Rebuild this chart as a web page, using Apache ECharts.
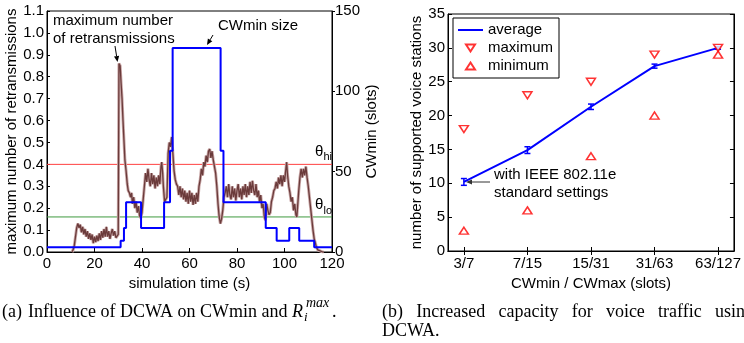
<!DOCTYPE html>
<html><head><meta charset="utf-8">
<script src="https://cdn.jsdelivr.net/npm/echarts@6/dist/echarts.min.js"></script>
<style>html,body{margin:0;padding:0;background:#fff;}#c{width:744px;height:343px;}</style>
</head><body><div id="c"></div>
<script>
const FONT = 'Liberation Sans, Arial, Helvetica, sans-serif';
const SERIF = 'Liberation Serif, Times New Roman, serif';

// ---- (a) data ----
const retxTime = [10.5,11,11.5,12,12.5,13,13.5,14,14.5,15,15.5,16,16.5,17,17.5,18,18.5,19,19.5,20,20.5,21,21.5,22,22.5,23,23.5,24,24.5,25,25.5,26,26.5,27,27.5,28,28.5,29,29.5,30,
30.3,30.8,31.2,31.6,32,32.4,32.8,33.3,33.8,34.2,34.7,35.2,35.6,36,36.5,37,37.5,38,38.5,39,39.5,40,40.5,41,41.5,42,42.5,43,43.5,44,44.5,45,45.5,46,46.5,47,47.5,48,48.3,48.7,49,49.5,50,50.5,51,51.5,52,52.5,53,53.5,54,54.5,55,55.5,56,56.5,57,57.5,58,58.5,59,59.5,60,60.5,61,61.5,62,62.5,63,63.5,64,64.5,65,65.5,66,66.5,67,67.5,68,68.5,69,69.5,70,70.5,71,71.5,72,72.5,73,73.5,74,74.5,75,75.5,76,76.5,77,77.5,78,78.5,79,79.5,80,80.5,81,81.5,82,82.5,83,83.5,84,84.5,85,85.5,86,86.5,87,87.5,88,88.5,89,89.5,90,90.5,91,91.5,92,92.5,93,93.5,94,94.5,95,95.5,96,96.5,97,97.5,98,98.5,99,99.5,100,100.5,100.9,101.3,101.8,102.3,102.8,103.3,103.8,104.3,104.8,105.2,105.6,106,106.5,107,107.5,108,108.5,109,109.5,110,110.5,111,111.5,112,112.5,113,113.5,114,115,116,116.5];
const retxValue = [0,0.01,0.03,0.07,0.11,0.13,0.11,0.125,0.09,0.115,0.08,0.105,0.07,0.095,0.06,0.085,0.055,0.08,0.04,0.07,0.045,0.075,0.05,0.085,0.055,0.095,0.065,0.105,0.07,0.115,0.07,0.095,0.06,0.085,0.105,0.075,0.095,0.065,0.06,0.08,
0.86,0.85,0.77,0.70,0.60,0.51,0.42,0.37,0.31,0.28,0.27,0.25,0.27,0.22,0.25,0.20,0.23,0.18,0.21,0.165,0.155,0.18,0.24,0.30,0.36,0.32,0.38,0.33,0.30,0.36,0.31,0.35,0.29,0.34,0.30,0.35,0.31,0.39,0.41,0.36,0.30,0.23,0.24,0.25,0.45,0.50,0.48,0.525,0.45,0.37,0.33,0.31,0.30,0.26,0.30,0.25,0.29,0.24,0.28,0.23,0.27,0.22,0.28,0.23,0.27,0.215,0.26,0.22,0.27,0.23,0.30,0.33,0.38,0.35,0.41,0.39,0.44,0.41,0.46,0.47,0.43,0.46,0.42,0.42,0.36,0.30,0.22,0.16,0.13,0.15,0.19,0.25,0.27,0.30,0.25,0.31,0.26,0.24,0.30,0.25,0.29,0.235,0.28,0.31,0.25,0.29,0.24,0.30,0.26,0.31,0.25,0.30,0.26,0.32,0.27,0.325,0.28,0.26,0.31,0.25,0.28,0.23,0.26,0.20,0.22,0.16,0.145,0.22,0.19,0.17,0.18,0.23,0.25,0.28,0.29,0.32,0.29,0.34,0.31,0.35,0.30,0.35,0.32,0.37,0.41,0.35,0.30,0.27,0.23,0.25,0.19,0.22,0.17,0.16,0.22,0.28,0.34,0.38,0.34,0.38,0.35,0.39,0.34,0.30,0.25,0.20,0.15,0.10,0.06,0.04,0.02,0.01,0.005,0,0];
const cwTime  = [0,31,32.4,33.3,39.6,49.3,51.8,52.9,73.1,74.3,92.1,96.7,102,106.2,112.5,120];
const cwValue = [3,7,15,31,15,31,63,127,63,31,15,7,15,7,3,3];
const thetaHi = 0.4;
const thetaLo = 0.16;

// ---- (b) data ----
const cwPairs = ['3/7','7/15','15/31','31/63','63/127'];
const avgStations = [10.2,14.9,21.3,27.3,30.0];
const avgError = [0.5,0.5,0.4,0.3,0.2];
const maxStations = [18,23,25,29,30];
const minStations = [3,6,14,20,29];

const zip = (a,b) => a.map((v,i)=>[v,b[i]]);
const catPos = cwPairs.map((c,i)=>i+1);

function arrow(x1,y1,x2,y2,color){
  const ang=Math.atan2(y2-y1,x2-x1), L=6, W=2.6;
  const bx=x2-L*Math.cos(ang), by=y2-L*Math.sin(ang);
  const px=-Math.sin(ang)*W, py=Math.cos(ang)*W;
  return [
    {type:'line', shape:{x1,y1,x2:bx,y2:by}, style:{stroke:color,lineWidth:1}},
    {type:'polygon', shape:{points:[[x2,y2],[bx+px,by+py],[bx-px,by-py]]}, style:{fill:color}}
  ];
}
function txt(text,x,y,size,opt){
  return {type:'text', x, y, style:Object.assign({text, fontSize:size, fontFamily:FONT, fill:'#000', verticalAlign:'middle'}, opt||{})};
}
// justified caption line (b)
function justify(words, x0, x1, y, size){
  const ctx=document.createElement('canvas').getContext('2d');
  ctx.font=size+'px '+SERIF;
  const ws=words.map(w=>ctx.measureText(w).width);
  const tot=ws.reduce((a,b)=>a+b,0);
  const gap=(x1-x0-tot)/(words.length-1);
  let x=x0; const out=[];
  words.forEach((w,i)=>{ out.push(txt(w,x,y,size,{fontFamily:SERIF})); x+=ws[i]+gap; });
  return out;
}

const axisText = {fontSize:15, color:'#000', fontFamily:FONT};
const blackLine = {show:true, lineStyle:{color:'#000', width:1}};

const chart = echarts.init(document.getElementById('c'), null, {renderer:'canvas'});
chart.setOption({
  animation:false,
  backgroundColor:'#fff',
  grid:[
    {left:47, top:11, width:285, height:241, show:true, borderColor:'#000', borderWidth:1, containLabel:false},
    {left:448, top:14, width:287, height:237, show:true, borderColor:'#000', borderWidth:1, containLabel:false}
  ],
  xAxis:[
    {gridIndex:0, type:'value', min:0, max:120, interval:20, axisLine:blackLine,
     axisTick:{show:true, inside:true, length:4, lineStyle:{color:'#000'}},
     axisLabel:Object.assign({margin:4}, axisText), splitLine:{show:false},
     name:'simulation time (s)', nameLocation:'middle', nameGap:19, nameTextStyle:axisText},
    {gridIndex:1, type:'value', min:0.75, max:5.25, axisLine:blackLine,
     axisTick:{show:true, inside:true, length:4, customValues:catPos, lineStyle:{color:'#000'}},
     axisLabel:Object.assign({margin:5, customValues:catPos, formatter:v=>cwPairs[Math.round(v)-1]}, axisText),
     splitLine:{show:false},
     name:'CWmin / CWmax (slots)', nameLocation:'middle', nameGap:19, nameTextStyle:axisText},
    {gridIndex:1, type:'value', position:'top', min:0.75, max:5.25, axisLine:blackLine,
     axisTick:{show:true, inside:true, length:4, customValues:catPos, lineStyle:{color:'#000'}},
     axisLabel:{show:false}, splitLine:{show:false}}
  ],
  yAxis:[
    {gridIndex:0, type:'value', min:0, max:1.1, interval:0.1, axisLine:blackLine,
     axisTick:{show:true, inside:true, length:3, lineStyle:{color:'#000'}},
     axisLabel:Object.assign({margin:3, formatter:v=>v.toFixed(1)}, axisText), splitLine:{show:false},
     name:'maximum number of retransmissions', nameLocation:'middle', nameRotate:90, nameGap:27, nameTextStyle:axisText},
    {gridIndex:0, type:'value', position:'right', min:0, max:150, interval:50, axisLine:blackLine,
     axisTick:{show:true, inside:false, length:3, lineStyle:{color:'#000'}},
     axisLabel:Object.assign({margin:3}, axisText), splitLine:{show:false},
     name:'CWmin (slots)', nameLocation:'middle', nameRotate:90, nameGap:27, nameTextStyle:axisText},
    {gridIndex:1, type:'value', min:0, max:35, interval:5, axisLine:blackLine,
     axisTick:{show:true, inside:true, length:4, lineStyle:{color:'#000'}},
     axisLabel:Object.assign({margin:3}, axisText), splitLine:{show:false},
     name:'number of supported voice stations', nameLocation:'middle', nameRotate:90, nameGap:24, nameTextStyle:axisText},
    {gridIndex:1, type:'value', position:'right', min:0, max:35, interval:5, axisLine:blackLine,
     axisTick:{show:true, inside:true, length:4, lineStyle:{color:'#000'}},
     axisLabel:{show:false}, splitLine:{show:false}}
  ],
  legend:{
    orient:'vertical', left:453, top:18, padding:[3,6,3,5], itemGap:0, itemWidth:25, itemHeight:7,
    borderColor:'#000', borderWidth:1, backgroundColor:'#fff',
    textStyle:{fontSize:15, lineHeight:18, color:'#000', fontFamily:FONT},
    data:[{name:'average', icon:'path://M0,0 L25,0 L25,2 L0,2 Z'},'maximum','minimum']
  },
  series:[
    {name:'thetaHi', type:'line', xAxisIndex:0, yAxisIndex:0, data:[[0,thetaHi],[120,thetaHi]],
     showSymbol:false, symbol:'none', lineStyle:{color:'#ff4040', width:1}, silent:true, z:1},
    {name:'thetaLo', type:'line', xAxisIndex:0, yAxisIndex:0, data:[[0,thetaLo],[120,thetaLo]],
     showSymbol:false, symbol:'none', lineStyle:{color:'#3f9a3f', width:1}, silent:true, z:1},
    {name:'retxHalo', type:'line', xAxisIndex:0, yAxisIndex:0, data:zip(retxTime, retxValue),
     smooth:false, sampling:null, symbol:'none', lineStyle:{color:'#c9a7a7', width:3}, silent:true, z:2},
    {name:'retx', type:'line', xAxisIndex:0, yAxisIndex:0, data:zip(retxTime, retxValue),
     smooth:false, sampling:null, symbol:'none', lineStyle:{color:'#6b3b3b', width:1.3}, z:2},
    {name:'cwmin', type:'line', xAxisIndex:0, yAxisIndex:1, data:zip(cwTime, cwValue), step:'end',
     symbol:'none', lineStyle:{color:'#0000ff', width:2}, z:3},
    {name:'average', type:'line', xAxisIndex:1, yAxisIndex:2, data:zip(catPos, avgStations),
     symbol:'none', lineStyle:{color:'#0000ff', width:2}, itemStyle:{color:'#0000ff'}, z:3},
    {name:'avgErr', type:'custom', xAxisIndex:1, yAxisIndex:2,
     data:catPos.map((x,i)=>[x, avgStations[i]-avgError[i], avgStations[i]+avgError[i]]),
     renderItem:(params, api)=>{
       const x=api.value(0), lo=api.value(1), hi=api.value(2);
       const a=api.coord([x,lo]), b=api.coord([x,hi]); const w=3;
       const st={stroke:'#0000ff', lineWidth:1.5};
       return {type:'group', children:[
         {type:'line', shape:{x1:a[0],y1:a[1],x2:b[0],y2:b[1]}, style:st},
         {type:'line', shape:{x1:a[0]-w,y1:a[1],x2:a[0]+w,y2:a[1]}, style:st},
         {type:'line', shape:{x1:b[0]-w,y1:b[1],x2:b[0]+w,y2:b[1]}, style:st}
       ]};
     }, z:4},
    {name:'maximum', type:'scatter', xAxisIndex:1, yAxisIndex:2, data:zip(catPos, maxStations),
     symbol:'path://M0,0 L9,0 L4.5,7 Z', symbolSize:[9,7],
     itemStyle:{color:'#fff', borderColor:'#ff0000', borderWidth:1.5}, z:5},
    {name:'minimum', type:'scatter', xAxisIndex:1, yAxisIndex:2, data:zip(catPos, minStations),
     symbol:'path://M4.5,0 L9,7 L0,7 Z', symbolSize:[9,7],
     itemStyle:{color:'#fff', borderColor:'#ff0000', borderWidth:1.5}, z:5}
  ],
  graphic:[
    txt('maximum number',53,21,15),
    txt('of retransmissions',53,39,15),
    ...arrow(115,46,117.5,62,'#000'),
    txt('CWmin size',218,26,15),
    ...arrow(213,35,207,45,'#000'),
    txt('θ',315,152,15), txt('hi',323.5,157,11),
    txt('θ',315,205,15), txt('lo',323.5,211,11),
    txt('with IEEE 802.11e',494,175,15),
    txt('standard settings',494,193,15),
    ...arrow(490,182,466,182,'#333'),
    // captions
    txt('(a)',2,312,18,{fontFamily:SERIF}),
    txt('Influence of DCWA on CWmin and',28,312,18,{fontFamily:SERIF}),
    txt('R',292,312,18,{fontFamily:SERIF, fontStyle:'italic'}),
    txt('i',304,318,13,{fontFamily:SERIF, fontStyle:'italic'}),
    txt('max',306,303,14,{fontFamily:SERIF, fontStyle:'italic'}),
    txt('.',332,312,18,{fontFamily:SERIF}),
    ...justify(['(b)','Increased','capacity','for','voice','traffic','using'],382,754,312,18),
    txt('DCWA.',382,331,18,{fontFamily:SERIF})
  ]
});
</script></body></html>
